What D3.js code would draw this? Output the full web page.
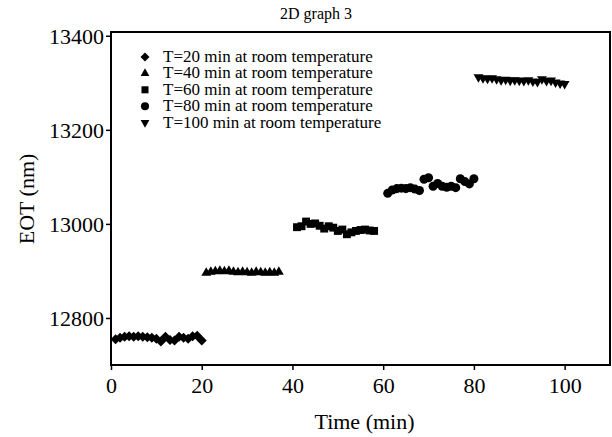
<!DOCTYPE html>
<html>
<head>
<meta charset="utf-8">
<script src="https://cdn.jsdelivr.net/npm/d3@7"></script>
<style>
  body { margin: 0; background: #fff; }
  svg text { font-family: "Liberation Serif", "Times New Roman", serif; fill: #000; }
</style>
</head>
<body>
<svg id="drawing_region"></svg>
<script>
// series labels and marker shapes
const series_names = [
    "T=20 min at room temperature",
    "T=40 min at room temperature",
    "T=60 min at room temperature",
    "T=80 min at room temperature",
    "T=100 min at room temperature"
];
const series_shapes = [ "diamond", "triangle", "square", "circle", "triangleDown" ];

// time (min) for each series
const time_20  = [ 1, 2, 3, 4, 5, 6, 7, 8, 9, 10, 11, 12, 13, 14, 15, 16, 17, 18, 19, 20 ];
const time_40  = [ 21, 22, 23, 24, 25, 26, 27, 28, 29, 30, 31, 32, 33, 34, 35, 36, 37 ];
const time_60  = [ 41, 42, 43, 44, 45, 46, 47, 48, 49, 50, 51, 52, 53, 54, 55, 56, 57, 58 ];
const time_80  = [ 61, 62, 63, 64, 65, 66, 67, 68, 69, 70, 71, 72, 73, 74, 75, 76, 77, 78, 79, 80 ];
const time_100 = [ 81, 82, 83, 84, 85, 86, 87, 88, 89, 90, 91, 92, 93, 94, 95, 96, 97, 98, 99, 100 ];

// EOT (nm) for each series
const eot_20  = [ 12755, 12758, 12760, 12761, 12760, 12761, 12760, 12759, 12758, 12756,
                  12750, 12760, 12753, 12752, 12760, 12758, 12756, 12761, 12762, 12752 ];
const eot_40  = [ 12896, 12898, 12899, 12900, 12899, 12900, 12898, 12897, 12898, 12897,
                  12896, 12898, 12897, 12896, 12897, 12896, 12898 ];
const eot_60  = [ 12993, 12995, 13005, 13000, 13001, 12996, 12990, 12995, 12992, 12985,
                  12988, 12978, 12982, 12985, 12987, 12988, 12986, 12985 ];
const eot_80  = [ 13065, 13072, 13075, 13076, 13075, 13077, 13074, 13071, 13095, 13098,
                  13080, 13086, 13080, 13078, 13080, 13077, 13096, 13090, 13085, 13096 ];
const eot_100 = [ 13312, 13310, 13309, 13310, 13308, 13306, 13307, 13305, 13306, 13305,
                  13304, 13306, 13303, 13302, 13308, 13304, 13305, 13301, 13299, 13298 ];

const x_ticks = [ 0, 20, 40, 60, 80, 100 ];
const y_ticks = [ 12800, 13000, 13200, 13400 ];

const times = [ time_20, time_40, time_60, time_80, time_100 ];
const eots  = [ eot_20, eot_40, eot_60, eot_80, eot_100 ];

const data = [];
times.forEach( ( ts, i ) => {
    ts.forEach( ( t, j ) => data.push( { series: i, time: t, eot: eots[i][j] } ) );
});

const config = {
    parent: '#drawing_region',
    width: 612,
    height: 437,
    margin: { top: 32, right: 2, bottom: 72, left: 111 }
};

const svg = d3.select( config.parent )
    .attr( 'width', config.width )
    .attr( 'height', config.height );

const inner_width = config.width - config.margin.left - config.margin.right;
const inner_height = config.height - config.margin.top - config.margin.bottom;

const chart = svg.append( 'g' )
    .attr( 'transform', `translate(${config.margin.left}, ${config.margin.top})` );

const xscale = d3.scaleLinear()
    .domain( [ 0, 110 ] )
    .range( [ 0, inner_width ] );

const yscale = d3.scaleLinear()
    .domain( [ 12700, 13408 ] )
    .range( [ inner_height, 0 ] );

const xaxis = d3.axisBottom( xscale )
    .tickValues( x_ticks )
    .tickFormat( d3.format( 'd' ) )
    .tickSize( 5 )
    .tickSizeOuter( 0 )
    .tickPadding( 4 );

const yaxis = d3.axisLeft( yscale )
    .tickValues( y_ticks )
    .tickFormat( d3.format( 'd' ) )
    .tickSize( 5 )
    .tickSizeOuter( 0 )
    .tickPadding( 2 );

const xaxis_group = chart.append( 'g' )
    .attr( 'transform', `translate(0, ${inner_height})` )
    .call( xaxis );

const yaxis_group = chart.append( 'g' )
    .call( yaxis );

[ xaxis_group, yaxis_group ].forEach( g => {
    g.attr( 'font-family', 'Liberation Serif, serif' )
        .attr( 'font-size', 22 );
    g.select( '.domain' ).remove();
    g.selectAll( '.tick line' ).attr( 'stroke', '#000' ).attr( 'stroke-width', 1.5 );
});
xaxis_group.selectAll( '.tick text' ).attr( 'dy', '0.85em' );
yaxis_group.selectAll( '.tick text' ).attr( 'dy', '0.34em' );

// frame
chart.append( 'rect' )
    .attr( 'x', 0 )
    .attr( 'y', 0 )
    .attr( 'width', inner_width )
    .attr( 'height', inner_height )
    .attr( 'fill', 'none' )
    .attr( 'stroke', '#000' )
    .attr( 'stroke-width', 2 );

const symbol_of = name => {
    if ( name === 'diamond' ) return { type: d3.symbolSquare, size: 50, rotate: 45 };
    if ( name === 'triangle' ) return { type: d3.symbolTriangle, size: 42, rotate: 0 };
    if ( name === 'triangleDown' ) return { type: d3.symbolTriangle, size: 42, rotate: 180 };
    if ( name === 'square' ) return { type: d3.symbolSquare, size: 62, rotate: 0 };
    return { type: d3.symbolCircle, size: 64, rotate: 0 };
};

const draw_marker = ( sel, name, scale ) => {
    const s = symbol_of( name );
    sel.attr( 'd', d3.symbol().type( s.type ).size( s.size * scale )() )
        .attr( 'fill', '#000' );
    return s.rotate;
};

chart.selectAll( 'path.point' )
    .data( data )
    .enter()
    .append( 'path' )
    .attr( 'class', 'point' )
    .each( function( d ) {
        const rot = draw_marker( d3.select( this ), series_shapes[ d.series ], 1 );
        d3.select( this ).attr( 'transform',
            `translate(${xscale( d.time )}, ${yscale( d.eot )}) rotate(${rot})` );
    });

// legend
const legend = chart.append( 'g' )
    .attr( 'transform', 'translate(34, 25)' );

series_names.forEach( ( name, i ) => {
    const row = legend.append( 'g' )
        .attr( 'transform', `translate(0, ${i * 16.4})` );
    const rot = draw_marker( row.append( 'path' ), series_shapes[i], 0.8 );
    row.select( 'path' ).attr( 'transform', `rotate(${rot})` );
    row.append( 'text' )
        .attr( 'x', 18 )
        .attr( 'y', 5 )
        .style( 'font-size', '17px' )
        .text( name );
});

// titles
svg.append( 'text' )
    .attr( 'x', 316 )
    .attr( 'y', 19 )
    .attr( 'text-anchor', 'middle' )
    .style( 'font-size', '16px' )
    .text( '2D graph 3' );

svg.append( 'text' )
    .attr( 'x', config.margin.left + inner_width / 2 + 4 )
    .attr( 'y', 429 )
    .attr( 'text-anchor', 'middle' )
    .style( 'font-size', '22px' )
    .text( 'Time (min)' );

svg.append( 'text' )
    .attr( 'transform', 'translate(34, 199) rotate(-90)' )
    .attr( 'text-anchor', 'middle' )
    .style( 'font-size', '22px' )
    .text( 'EOT (nm)' );
</script>
</body>
</html>
